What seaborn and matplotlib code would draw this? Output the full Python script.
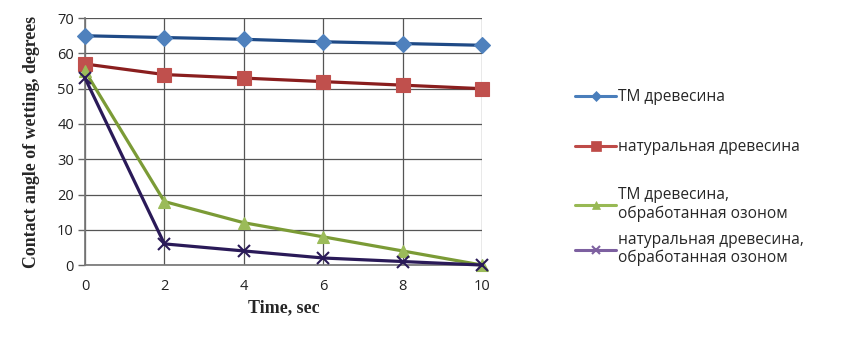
import matplotlib
matplotlib.use("Agg")
import matplotlib.pyplot as plt
from matplotlib.lines import Line2D
import seaborn as sns
import pandas as pd

# Time points, seconds
time_sec = [0, 2, 4, 6, 8, 10]

# Contact angle of wetting, degrees
tm_wood = [65, 64.5, 64, 63.3, 62.8, 62.3]
natural_wood = [57, 54, 53, 52, 51, 50]
tm_wood_ozone = [55, 18, 12, 8, 4, 0]
natural_wood_ozone = [53, 6, 4, 2, 1, 0]

series_labels = [
    "ТМ древесина",
    "натуральная древесина",
    "ТМ древесина,\nобработанная озоном",
    "натуральная древесина,\nобработанная озоном",
]

x_ticks = [0, 2, 4, 6, 8, 10]
y_ticks = [0, 10, 20, 30, 40, 50, 60, 70]

sns.set_theme(style="white")
plt.rcParams["font.family"] = ["Open Sans", "DejaVu Sans"]

frames = []
for lbl, vals in zip(series_labels, [tm_wood, natural_wood, tm_wood_ozone, natural_wood_ozone]):
    frames.append(pd.DataFrame({"time": time_sec, "angle": vals, "series": lbl}))
df = pd.concat(frames, ignore_index=True)

line_colors = ["#1F4A86", "#8A1E1E", "#7B9B36", "#2A1A58"]
marker_faces = ["#4F81BD", "#C0504D", "#9BBB59", "#8064A2"]
legend_colors = ["#4A7EBB", "#BE4B48", "#98B954", "#7D60A0"]
markers = ["D", "s", "^", "x"]
msizes = [8, 10, 9, 9]

fig = plt.figure(figsize=(8.5, 3.42), dpi=100)
ax = fig.add_axes([0.1, 0.225, 0.467, 0.722])

for i, lbl in enumerate(series_labels):
    sub = df[df["series"] == lbl]
    sns.lineplot(
        data=sub, x="time", y="angle", ax=ax,
        color=line_colors[i], linewidth=2.3,
        marker=markers[i], markersize=msizes[i],
        markerfacecolor=marker_faces[i],
        markeredgecolor=(line_colors[i] if markers[i] == "x" else marker_faces[i]),
        markeredgewidth=(1.5 if markers[i] == "x" else 0.8),
        legend=False, zorder=3 + i, clip_on=False,
    )

ax.set_xlim(0, 10)
ax.set_ylim(0, 70)
ax.set_xticks(x_ticks)
ax.set_yticks(y_ticks)
ax.tick_params(axis="both", labelsize=10.5, colors="#222222")
ax.tick_params(axis="y", length=5, width=1, color="#666666", direction="out", left=True, pad=3)
ax.tick_params(axis="x", length=0, pad=10)
ax.grid(True, color="#555555", linewidth=0.9)
ax.set_axisbelow(True)
for side in ["top", "right"]:
    ax.spines[side].set_visible(False)
ax.spines["left"].set_color("#777777")
ax.spines["bottom"].set_color("#777777")

ax.set_xlabel("Time, sec", fontfamily="Liberation Serif", fontweight="bold", fontsize=13)
ax.set_ylabel("Contact angle of wetting, degrees", fontfamily="Liberation Serif",
              fontweight="bold", fontsize=12.8)
ax.xaxis.set_label_coords(0.5, -0.14)
ax.yaxis.set_label_coords(-0.113, 0.5)

# one legend entry per block so each sits at its own height
legend_y = [0.716, 0.570, 0.401, 0.272]
for i in range(4):
    h = Line2D([0], [0], color=legend_colors[i], linewidth=2.2,
               marker=markers[i], markersize=msizes[i] * 0.7,
               markerfacecolor=legend_colors[i],
               markeredgecolor=legend_colors[i],
               markeredgewidth=1.5 if markers[i] == "x" else 0.5)
    fig.legend([h], [series_labels[i]], loc="center left",
               bbox_to_anchor=(0.677, legend_y[i]), frameon=False, fontsize=11.2,
               handlelength=2.6, handletextpad=0.15, borderaxespad=0, borderpad=0)

fig.savefig("out.png", dpi=100)
